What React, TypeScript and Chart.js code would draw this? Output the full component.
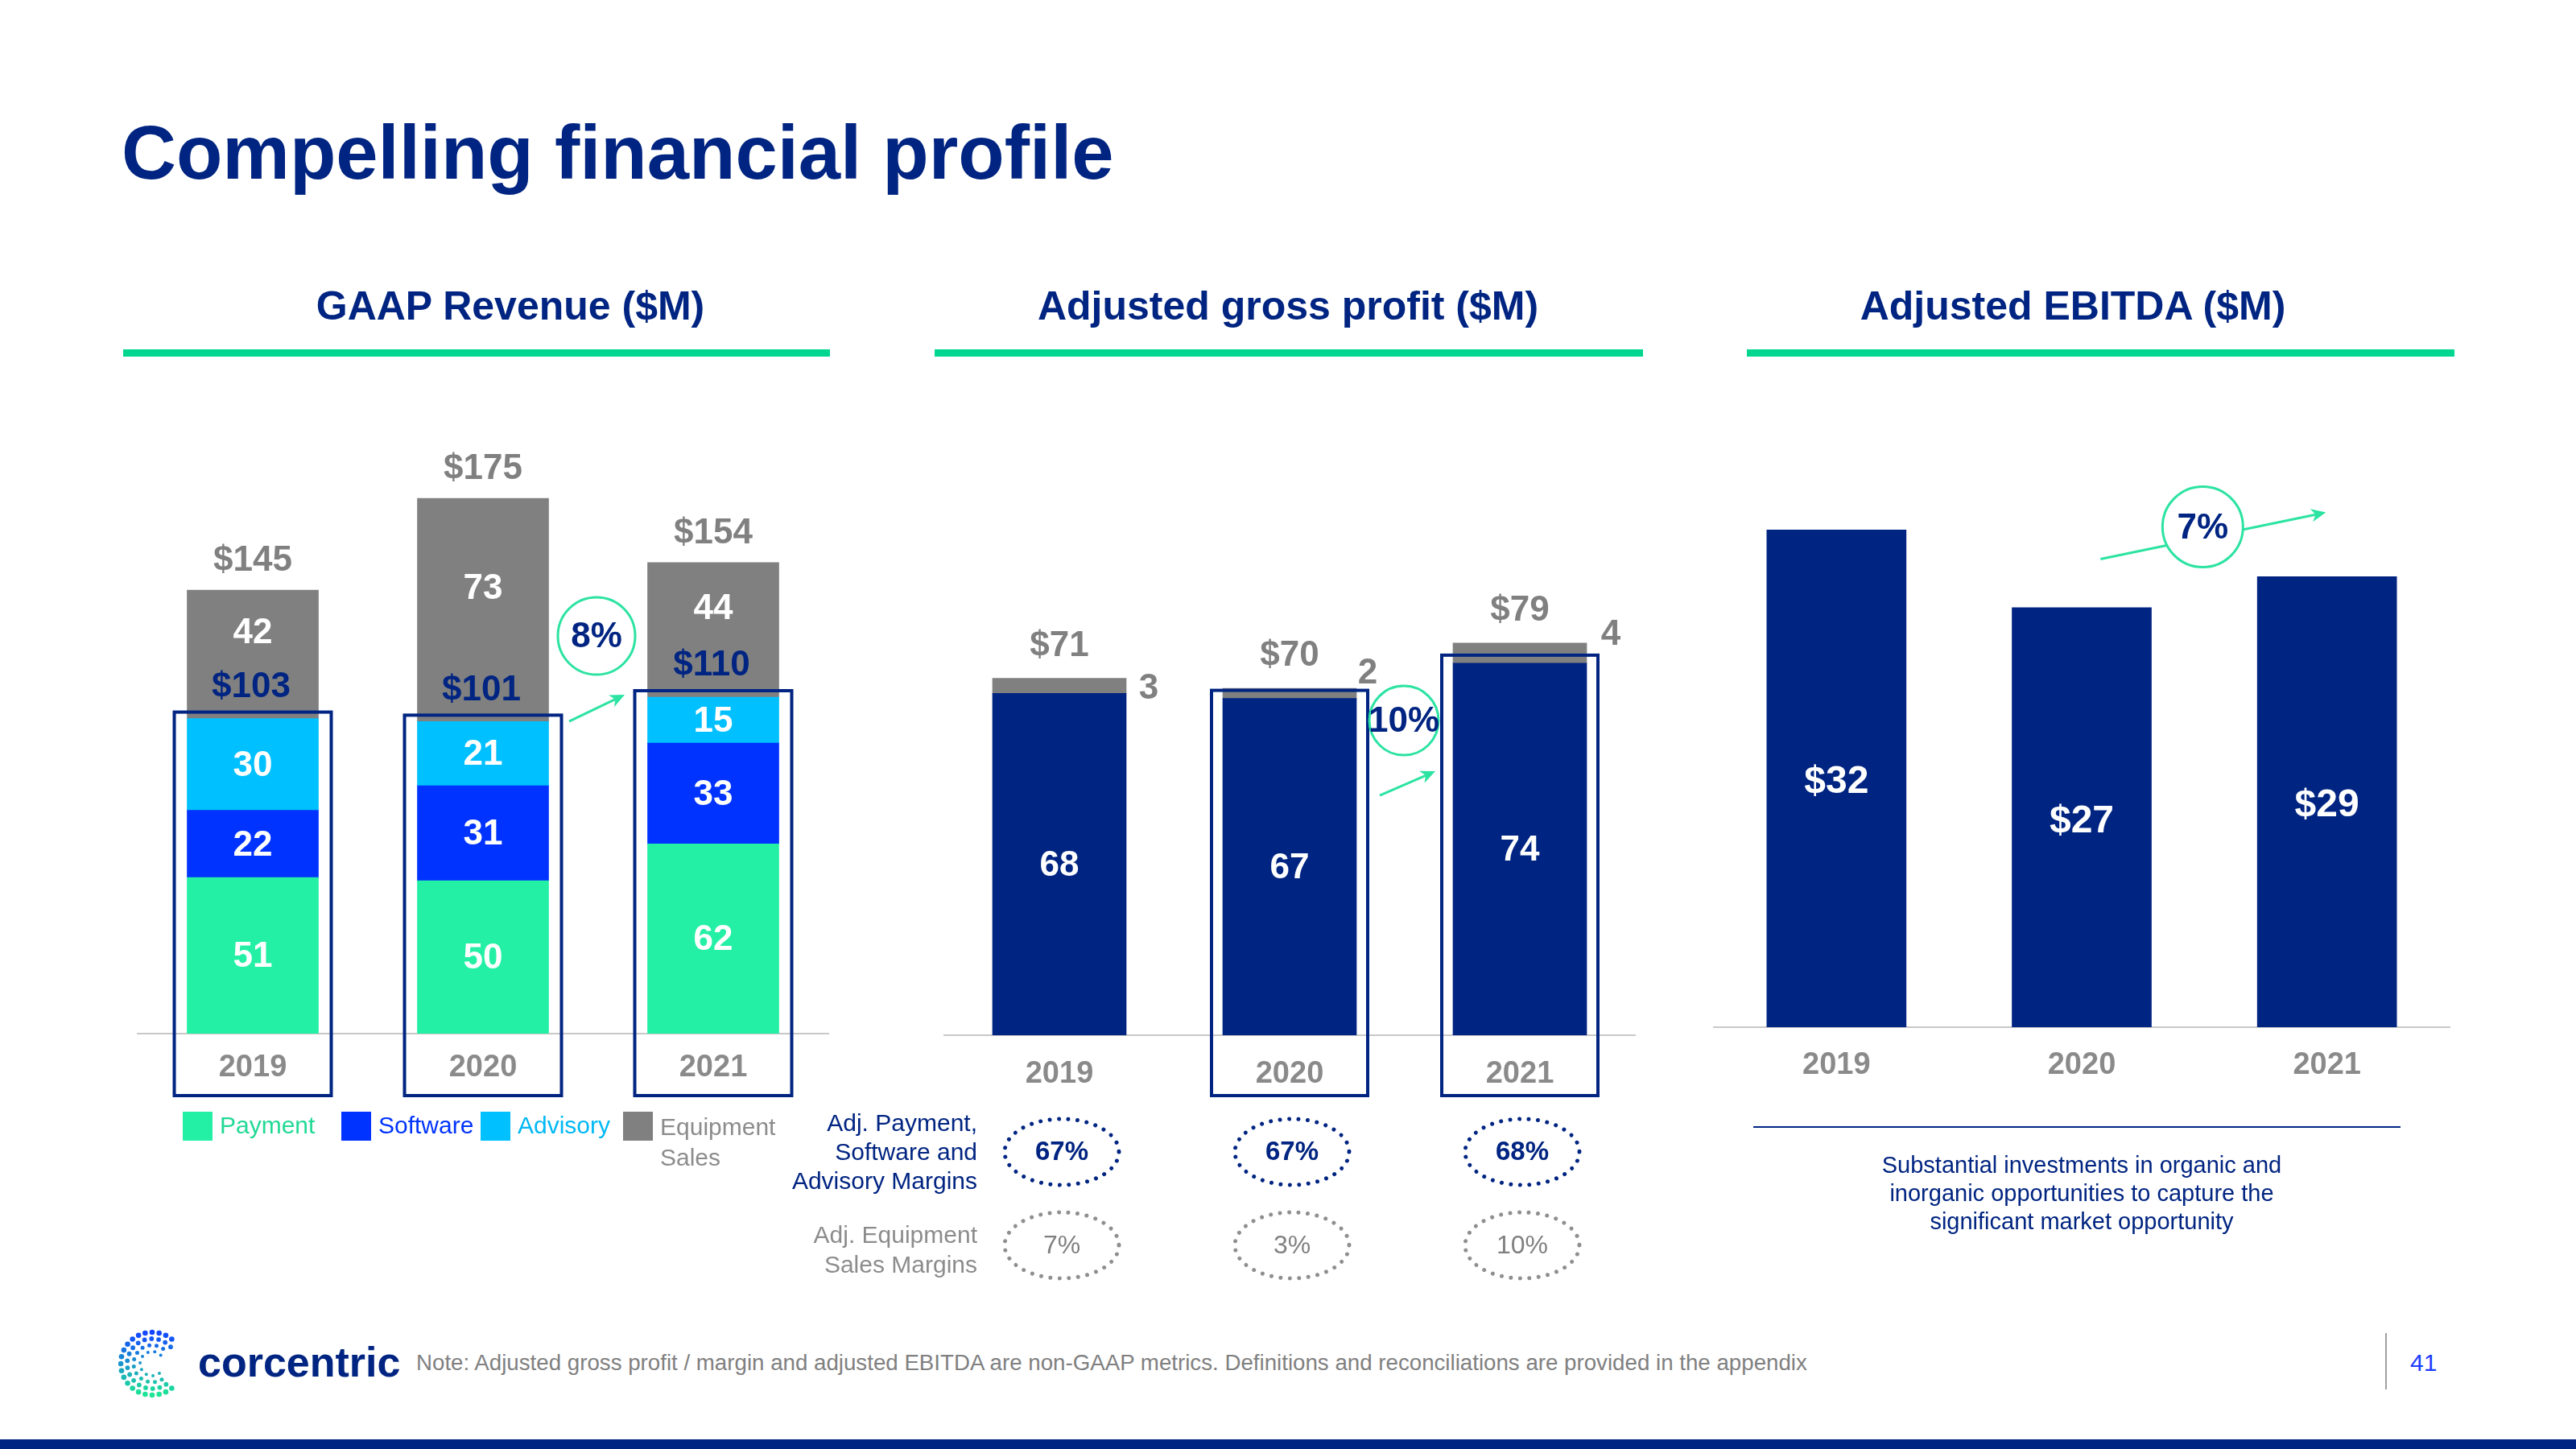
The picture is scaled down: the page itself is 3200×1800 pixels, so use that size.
import React, { useEffect, useRef } from "react";
import { Chart, registerables } from "chart.js";

Chart.register(...registerables);

// ---------------- data ----------------
const years = ["2019", "2020", "2021"];

// GAAP revenue ($M)
const revPayment = [51, 50, 62];
const revSoftware = [22, 31, 33];
const revAdvisory = [30, 21, 15];
const revEquipment = [42, 73, 44];
const revTotals = [145, 175, 154];
const revCore = [103, 101, 110];
const revGrowth = "8%";

// Adjusted gross profit ($M)
const gpCore = [68, 67, 74];
const gpEquipment = [3, 2, 4];
const gpTotals = [71, 70, 79];
const gpGrowth = "10%";
const marginCore = [67, 67, 68];
const marginEquipment = [7, 3, 10];

// Adjusted EBITDA ($M)
const ebitda = [32, 27, 29];
const ebitdaGrowth = "7%";

// ---------------- styles ----------------
const FONT = '"Liberation Sans", Arial, Helvetica, sans-serif';
const NAVY = "#002481";
const MINT = "#2CE3A2";
const LINE_GREEN = "#00D68F";
const C_PAY = "#24F0A5";
const C_SW = "#0033FF";
const C_ADV = "#00C0FF";
const C_EQ = "#808080";
const GRAY_TXT = "#808080";
const AXIS = "#c8c8c8";

// label nudges for the small equipment gross-profit values
const gpSideDx = [28, 14, 30];
const gpSideDy = [4, -24, -23];

function arrow(ctx: CanvasRenderingContext2D, x1: number, y1: number, x2: number, y2: number) {
  ctx.save();
  ctx.strokeStyle = MINT;
  ctx.fillStyle = MINT;
  ctx.lineWidth = 3;
  const a = Math.atan2(y2 - y1, x2 - x1);
  const hl = 20;
  const bx = x2 - Math.cos(a) * hl * 0.65;
  const by = y2 - Math.sin(a) * hl * 0.65;
  ctx.beginPath();
  ctx.moveTo(x1, y1);
  ctx.lineTo(bx, by);
  ctx.stroke();
  ctx.beginPath();
  ctx.moveTo(x2, y2);
  ctx.lineTo(x2 - hl * Math.cos(a - 0.42), y2 - hl * Math.sin(a - 0.42));
  ctx.lineTo(bx, by);
  ctx.lineTo(x2 - hl * Math.cos(a + 0.42), y2 - hl * Math.sin(a + 0.42));
  ctx.closePath();
  ctx.fill();
  ctx.restore();
}

function badge(ctx: CanvasRenderingContext2D, cx: number, cy: number, r: number, text: string, size: number) {
  ctx.save();
  ctx.beginPath();
  ctx.arc(cx, cy, r, 0, Math.PI * 2);
  ctx.fillStyle = "#ffffff";
  ctx.fill();
  ctx.lineWidth = 3;
  ctx.strokeStyle = MINT;
  ctx.stroke();
  ctx.fillStyle = NAVY;
  ctx.font = `bold ${size}px ${FONT}`;
  ctx.textAlign = "center";
  ctx.textBaseline = "middle";
  ctx.fillText(text, cx, cy + 2);
  ctx.restore();
}

function dotEllipse(ctx: CanvasRenderingContext2D, cx: number, cy: number, rx: number, ry: number, color: string) {
  ctx.save();
  ctx.beginPath();
  ctx.ellipse(cx, cy, rx, ry, 0, 0, Math.PI * 2);
  ctx.setLineDash([0.01, 11.5]);
  ctx.lineCap = "round";
  ctx.lineWidth = 5;
  ctx.strokeStyle = color;
  ctx.stroke();
  ctx.restore();
}

function barProps(el: any) {
  return el.getProps(["x", "y", "base", "width"], true);
}

// ---------------- plugins ----------------
const revPlugin = {
  id: "revLabels",
  afterDraw(chart: any) {
    const ctx: CanvasRenderingContext2D = chart.ctx;
    const ys = chart.scales.y;
    const ca = chart.chartArea;
    const metas = [0, 1, 2, 3].map((i) => chart.getDatasetMeta(i));
    ctx.save();
    ctx.textAlign = "center";
    ctx.textBaseline = "middle";
    ctx.font = `bold 44px ${FONT}`;
    years.forEach((_, i) => {
      for (let d = 0; d < 3; d++) {
        const el = barProps(metas[d].data[i]);
        ctx.fillStyle = "#ffffff";
        ctx.fillText(String(chart.data.datasets[d].data[i]), el.x, (el.y + el.base) / 2 + 2);
      }
      const eq = barProps(metas[3].data[i]);
      const coreY = eq.base - 39;
      ctx.fillStyle = NAVY;
      ctx.fillText("$" + revCore[i], eq.x - 2, coreY);
      ctx.fillStyle = "#ffffff";
      ctx.fillText(String(revEquipment[i]), eq.x, (eq.y + coreY) / 2 - 6);
      ctx.fillStyle = GRAY_TXT;
      ctx.fillText("$" + revTotals[i], eq.x, eq.y - 36);
      const half = eq.width / 2 + 16;
      const top = eq.base - 8;
      ctx.strokeStyle = NAVY;
      ctx.lineWidth = 4;
      ctx.strokeRect(eq.x - half, top, half * 2, ca.bottom + 77 - top);
    });
    const xs = chart.scales.x;
    const cx = (xs.getPixelForValue(1) + xs.getPixelForValue(2)) / 2;
    arrow(ctx, cx - 36, ys.getPixelForValue(revCore[1]) - 4, cx + 33, ys.getPixelForValue(revCore[2]) - 3);
    badge(ctx, cx - 2, ys.getPixelForValue(130), 48, revGrowth, 44);
    ctx.restore();
  },
};

const gpPlugin = {
  id: "gpLabels",
  afterDraw(chart: any) {
    const ctx: CanvasRenderingContext2D = chart.ctx;
    const ys = chart.scales.y;
    const xs = chart.scales.x;
    const ca = chart.chartArea;
    const m0 = chart.getDatasetMeta(0);
    const m1 = chart.getDatasetMeta(1);
    ctx.save();
    ctx.textAlign = "center";
    ctx.textBaseline = "middle";
    years.forEach((_, i) => {
      const core = barProps(m0.data[i]);
      const eq = barProps(m1.data[i]);
      ctx.font = `bold 44px ${FONT}`;
      ctx.fillStyle = "#ffffff";
      ctx.fillText(String(gpCore[i]), core.x, (core.y + core.base) / 2 + 2);
      ctx.fillStyle = GRAY_TXT;
      ctx.fillText("$" + gpTotals[i], eq.x, eq.y - 40);
      ctx.fillText(String(gpEquipment[i]), eq.x + eq.width / 2 + gpSideDx[i], (eq.y + eq.base) / 2 + gpSideDy[i]);
      if (i > 0) {
        const half = core.width / 2 + 14;
        const top = core.y - 10;
        ctx.strokeStyle = NAVY;
        ctx.lineWidth = 4;
        ctx.strokeRect(core.x - half, top, half * 2, ca.bottom + 75 - top);
      }
      // margins
      const mx = core.x + 3;
      const y1 = ca.bottom + 145;
      const y2 = ca.bottom + 261;
      dotEllipse(ctx, mx, y1, 71, 41, NAVY);
      dotEllipse(ctx, mx, y2, 71, 41, "#8f8f8f");
      ctx.font = `bold 33px ${FONT}`;
      ctx.fillStyle = NAVY;
      ctx.fillText(marginCore[i] + "%", mx, y1 + 1);
      ctx.font = `32px ${FONT}`;
      ctx.fillStyle = GRAY_TXT;
      ctx.fillText(marginEquipment[i] + "%", mx, y2 + 1);
    });
    const cx = (xs.getPixelForValue(1) + xs.getPixelForValue(2)) / 2;
    const cy = ys.getPixelForValue(62.6);
    arrow(ctx, cx - 31, cy + 93, cx + 38, cy + 63);
    badge(ctx, cx - 1, cy, 43, gpGrowth, 44);
    ctx.restore();
  },
};

const ebPlugin = {
  id: "ebLabels",
  afterDraw(chart: any) {
    const ctx: CanvasRenderingContext2D = chart.ctx;
    const ys = chart.scales.y;
    const xs = chart.scales.x;
    const m0 = chart.getDatasetMeta(0);
    ctx.save();
    ctx.textAlign = "center";
    ctx.textBaseline = "middle";
    ctx.font = `bold 48px ${FONT}`;
    ctx.fillStyle = "#ffffff";
    years.forEach((_, i) => {
      const el = barProps(m0.data[i]);
      ctx.fillText("$" + ebitda[i], el.x, (el.y + el.base) / 2 + 5);
    });
    const cx = (xs.getPixelForValue(1) + xs.getPixelForValue(2)) / 2;
    const cy = ys.getPixelForValue(32.2);
    arrow(ctx, cx - 129, cy + 40, cx + 151, cy - 18);
    badge(ctx, cx - 2, cy, 50, ebitdaGrowth, 44);
    ctx.restore();
  },
};

function xAxis(padding: number, height: number) {
  return {
    stacked: true,
    grid: { display: false, drawTicks: false },
    border: { display: true, color: AXIS, width: 2 },
    ticks: {
      color: "#8a8a8a",
      font: { family: FONT, size: 38, weight: "bold" },
      padding,
      maxRotation: 0,
      autoSkip: false,
    },
    afterFit: (s: any) => {
      s.height = height;
    },
  };
}

const baseOptions = {
  responsive: false,
  maintainAspectRatio: false,
  animation: false,
  devicePixelRatio: 1,
  events: [],
  plugins: { legend: { display: false }, tooltip: { enabled: false } },
};

function makeRevenue() {
  const bt = 163;
  return {
    type: "bar",
    data: {
      labels: years,
      datasets: [
        { label: "Payment", data: revPayment, backgroundColor: C_PAY, barThickness: bt },
        { label: "Software", data: revSoftware, backgroundColor: C_SW, barThickness: bt },
        { label: "Advisory", data: revAdvisory, backgroundColor: C_ADV, barThickness: bt },
        { label: "Equipment Sales", data: revEquipment, backgroundColor: C_EQ, barThickness: bt },
      ],
    },
    options: {
      ...baseOptions,
      layout: { padding: { left: 21, right: 21, top: 44, bottom: 116 } },
      scales: {
        x: xAxis(20, 80),
        y: { stacked: true, display: false, min: 0, max: 200 },
      },
    },
    plugins: [revPlugin],
  };
}

function makeGross() {
  const bt = 166;
  return {
    type: "bar",
    data: {
      labels: years,
      datasets: [
        { label: "Payment, Software and Advisory", data: gpCore, backgroundColor: NAVY, barThickness: bt },
        { label: "Equipment Sales", data: gpEquipment, backgroundColor: C_EQ, barThickness: bt },
      ],
    },
    options: {
      ...baseOptions,
      layout: { padding: { left: 23, right: 19, top: 74, bottom: 284 } },
      scales: {
        x: xAxis(26, 80),
        y: { stacked: true, display: false, min: 0, max: 98 },
      },
    },
    plugins: [gpPlugin],
  };
}

function makeEbitda() {
  return {
    type: "bar",
    data: {
      labels: years,
      datasets: [{ label: "Adjusted EBITDA", data: ebitda, backgroundColor: NAVY, barThickness: 173 }],
    },
    options: {
      ...baseOptions,
      layout: { padding: { left: 29, right: 37, top: 24, bottom: 34 } },
      scales: {
        x: xAxis(25, 70),
        y: { stacked: true, display: false, min: 0, max: 40 },
      },
    },
    plugins: [ebPlugin],
  };
}

function ChartBox({ left, top, width, height, make }: any) {
  const ref = useRef<HTMLCanvasElement>(null);
  useEffect(() => {
    const chart = new Chart(ref.current as HTMLCanvasElement, make());
    return () => chart.destroy();
  }, []);
  return (
    <canvas
      ref={ref}
      width={width}
      height={height}
      style={{ position: "absolute", left, top, width, height }}
    />
  );
}

function topFor(base: number, size: number, lh: number) {
  return base - ((lh - 1.117 * size) / 2 + 0.905 * size);
}

function Txt({ x, base, size, color, bold, align = "left", lh, w = 1400, children }: any) {
  const L = lh ?? size;
  const top = topFor(base, size, L);
  const left = align === "left" ? x : align === "center" ? x - w / 2 : x - w;
  return (
    <div
      style={{
        position: "absolute",
        left,
        top,
        width: w,
        fontFamily: FONT,
        fontSize: size,
        lineHeight: L + "px",
        color,
        fontWeight: bold ? 700 : 400,
        textAlign: align,
        whiteSpace: "pre",
      }}
    >
      {children}
    </div>
  );
}

function Rect({ x, y, w, h, c }: any) {
  return <div style={{ position: "absolute", left: x, top: y, width: w, height: h, background: c }} />;
}

function Logo() {
  const dots: any[] = [];
  const cx = 42;
  const cy = 43;
  const rings = [
    { r: 39, n: 28, s: 3.3 },
    { r: 31, n: 22, s: 2.9 },
    { r: 23, n: 16, s: 2.5 },
    { r: 15, n: 11, s: 2.0 },
  ];
  const blue = [20, 70, 255];
  const green = [30, 230, 150];
  rings.forEach((ring, ri) => {
    for (let k = 0; k < ring.n; k++) {
      const ang = (k / ring.n) * Math.PI * 2 + ri * 0.12;
      const deg = ((ang * 180) / Math.PI) % 360;
      if (deg < 42 || deg > 318) continue;
      const x = cx + ring.r * Math.cos(ang);
      const y = cy + ring.r * Math.sin(ang);
      const t = Math.min(1, Math.max(0, (y - 4) / 78));
      const col = `rgb(${Math.round(blue[0] + (green[0] - blue[0]) * t)},${Math.round(
        blue[1] + (green[1] - blue[1]) * t
      )},${Math.round(blue[2] + (green[2] - blue[2]) * t)})`;
      dots.push(<circle key={ri + "-" + k} cx={x} cy={y} r={ring.s} fill={col} />);
    }
  });
  return (
    <svg width={86} height={88} style={{ position: "absolute", left: 147, top: 1651 }}>
      {dots}
    </svg>
  );
}

export default function App() {
  return (
    <div
      style={{
        position: "absolute",
        left: 0,
        top: 0,
        width: 3200,
        height: 1800,
        background: "#ffffff",
        overflow: "hidden",
      }}
    >
      <Txt x={151} base={223} size={94} color={NAVY} bold>
        Compelling financial profile
      </Txt>

      <Txt x={634} base={397} size={50} color={NAVY} bold align="center" w={900}>
        GAAP Revenue ($M)
      </Txt>
      <Txt x={1600} base={397} size={50} color={NAVY} bold align="center" w={900}>
        Adjusted gross profit ($M)
      </Txt>
      <Txt x={2575} base={397} size={50} color={NAVY} bold align="center" w={900}>
        Adjusted EBITDA ($M)
      </Txt>
      <Rect x={153} y={434} w={878} h={9} c={LINE_GREEN} />
      <Rect x={1161} y={434} w={880} h={9} c={LINE_GREEN} />
      <Rect x={2170} y={434} w={879} h={9} c={LINE_GREEN} />

      <ChartBox left={150} top={480} width={900} height={1000} make={makeRevenue} />
      <ChartBox left={1150} top={600} width={900} height={1050} make={makeGross} />
      <ChartBox left={2100} top={480} width={980} height={900} make={makeEbitda} />

      {/* legend */}
      <Rect x={227} y={1381} w={37} h={36} c={C_PAY} />
      <Txt x={273} base={1408} size={30} color="#22D995">
        Payment
      </Txt>
      <Rect x={424} y={1381} w={37} h={36} c={C_SW} />
      <Txt x={470} base={1408} size={30} color={C_SW}>
        Software
      </Txt>
      <Rect x={597} y={1381} w={37} h={36} c={C_ADV} />
      <Txt x={643} base={1408} size={30} color="#00B8F5">
        Advisory
      </Txt>
      <Rect x={774} y={1381} w={37} h={36} c={C_EQ} />
      <Txt x={820} base={1410} size={30} color="#8c8c8c" lh={38}>
        {"Equipment\nSales"}
      </Txt>

      {/* margin row labels */}
      <Txt x={1214} base={1405} size={30} color={NAVY} align="right" lh={36} w={600}>
        {"Adj. Payment,\nSoftware and\nAdvisory Margins"}
      </Txt>
      <Txt x={1214} base={1544} size={30} color="#8c8c8c" align="right" lh={37} w={600}>
        {"Adj. Equipment\nSales Margins"}
      </Txt>

      {/* EBITDA note */}
      <Rect x={2178} y={1399} w={804} h={2} c={NAVY} />
      <Txt x={2586} base={1458} size={29} color={NAVY} align="center" lh={35} w={800}>
        {"Substantial investments in organic and\ninorganic opportunities to capture the\nsignificant market opportunity"}
      </Txt>

      {/* footer */}
      <Logo />
      <Txt x={246} base={1710} size={52} color={NAVY} bold>
        corcentric
      </Txt>
      <Txt x={517} base={1702} size={27.7} color={GRAY_TXT} w={2100}>
        Note: Adjusted gross profit / margin and adjusted EBITDA are non-GAAP metrics. Definitions and reconciliations are provided in the appendix
      </Txt>
      <Rect x={2963} y={1656} w={2} h={70} c="#a0a0a0" />
      <Txt x={2994} base={1703} size={30} color="#1a3cff">
        41
      </Txt>
      <Rect x={0} y={1788} w={3200} h={12} c={NAVY} />
    </div>
  );
}
